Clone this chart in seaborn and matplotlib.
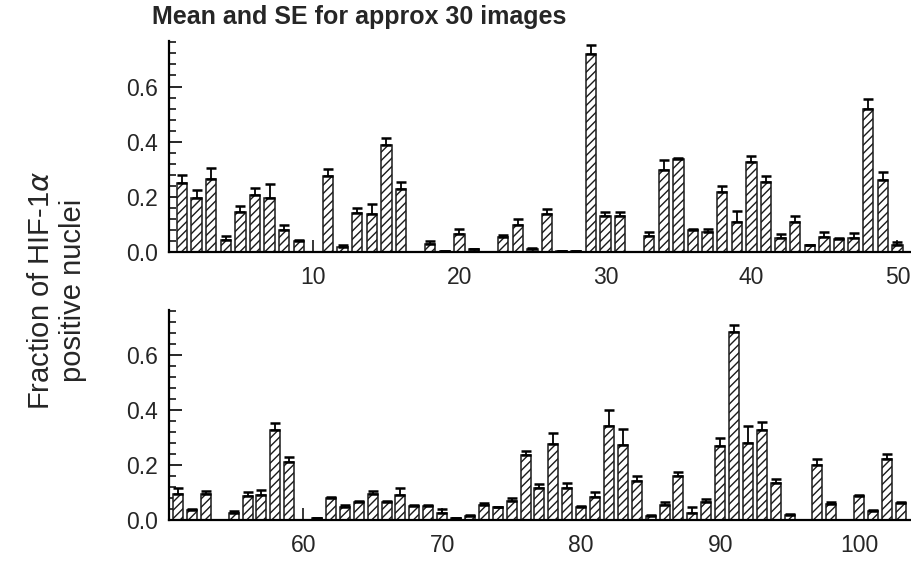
import matplotlib
matplotlib.use("Agg")
import matplotlib.pyplot as plt
import seaborn as sns
import numpy as np
import pandas as pd
from matplotlib.ticker import MultipleLocator

# ---------------- data ----------------
top_ids = list(range(1, 51))
top_mean = [0.251, 0.194, 0.264, 0.042, 0.144, 0.208, 0.196, 0.079, 0.039, 0.0,
            0.276, 0.018, 0.142, 0.136, 0.388, 0.228, 0.0, 0.030, 0.005, 0.067,
            0.010, 0.0, 0.055, 0.097, 0.011, 0.136, 0.002, 0.002, 0.719, 0.132,
            0.130, 0.0, 0.058, 0.297, 0.336, 0.081, 0.072, 0.218, 0.107, 0.325,
            0.252, 0.052, 0.109, 0.024, 0.055, 0.048, 0.052, 0.519, 0.261, 0.027]
top_se = [0.028, 0.030, 0.041, 0.015, 0.023, 0.025, 0.050, 0.018, 0.006, 0.0,
          0.024, 0.006, 0.016, 0.039, 0.027, 0.024, 0.0, 0.010, 0.0, 0.015,
          0.002, 0.0, 0.006, 0.023, 0.002, 0.019, 0.0, 0.0, 0.033, 0.013,
          0.015, 0.0, 0.014, 0.036, 0.003, 0.004, 0.010, 0.022, 0.041, 0.023,
          0.024, 0.012, 0.021, 0.002, 0.017, 0.004, 0.018, 0.035, 0.030, 0.010]

bottom_ids = list(range(51, 104))
bottom_mean = [0.095, 0.036, 0.095, 0.0, 0.027, 0.086, 0.092, 0.328, 0.210, 0.0,
               0.006, 0.079, 0.049, 0.066, 0.094, 0.064, 0.092, 0.051, 0.051, 0.027,
               0.006, 0.015, 0.055, 0.046, 0.069, 0.235, 0.116, 0.276, 0.118, 0.049,
               0.085, 0.341, 0.274, 0.142, 0.016, 0.055, 0.161, 0.024, 0.064, 0.270,
               0.685, 0.282, 0.328, 0.134, 0.018, 0.0, 0.201, 0.057, 0.0, 0.089,
               0.033, 0.223, 0.061]
bottom_se = [0.021, 0.004, 0.010, 0.0, 0.004, 0.016, 0.018, 0.024, 0.019, 0.0,
             0.0, 0.006, 0.004, 0.003, 0.011, 0.006, 0.024, 0.004, 0.004, 0.012,
             0.0, 0.003, 0.006, 0.003, 0.011, 0.018, 0.015, 0.040, 0.018, 0.003,
             0.018, 0.058, 0.057, 0.020, 0.003, 0.012, 0.013, 0.025, 0.013, 0.030,
             0.027, 0.062, 0.028, 0.016, 0.003, 0.0, 0.020, 0.010, 0.0, 0.003,
             0.003, 0.017, 0.004]

top_ticks = [10, 20, 30, 40, 50]
bottom_ticks = [60, 70, 80, 90, 100]
y_ticks = [0.0, 0.2, 0.4, 0.6]
y_ticklabels = ["0.0", "0.2", "0.4", "0.6"]

title = "Mean and SE for approx 30 images"
ylabel = "Fraction of HIF-1$\\alpha$\npositive nuclei"

# ---------------- style ----------------
sns.set_style("white")
plt.rcParams["font.family"] = ["Liberation Sans", "DejaVu Sans"]
plt.rcParams["hatch.linewidth"] = 1.0
plt.rcParams["mathtext.fontset"] = "dejavusans"

W, H = 912, 562
fig = plt.figure(figsize=(W / 100, H / 100), dpi=100)

def axes_px(left, top, right, bottom):
    return fig.add_axes([left / W, 1 - bottom / H, (right - left) / W, (bottom - top) / H])

ax_top = axes_px(169, 41, 912, 252)
ax_bot = axes_px(169, 310, 912, 520)

panels = [
    (ax_top, top_ids, top_mean, top_se, top_ticks, (0.11, 51.0)),
    (ax_bot, bottom_ids, bottom_mean, bottom_se, bottom_ticks, (50.35, 103.8)),
]

for ax, ids, mean, se, xticks, xlim in panels:
    df = pd.DataFrame({"id": ids, "mean": mean})
    sns.barplot(data=df, x="id", y="mean", native_scale=True, ax=ax,
                color="white", saturation=1, edgecolor="black", linewidth=1.1,
                hatch="////", width=0.72, errorbar=None)
    for p in ax.patches:
        p.set_edgecolor("#1a1a1a")
    ax.errorbar(ids, mean, yerr=[np.zeros(len(se)), se], fmt="none",
                ecolor="black", elinewidth=1.3, capsize=3.6, capthick=1.8, zorder=3)
    ax.set_xlim(*xlim)
    ax.set_ylim(0, 0.765)
    ax.set_xticks(xticks)
    ax.set_xticklabels([str(t) for t in xticks])
    ax.set_yticks(y_ticks)
    ax.set_yticklabels(y_ticklabels)
    ax.yaxis.set_minor_locator(MultipleLocator(0.04))
    ax.tick_params(axis="x", which="major", direction="in", length=8.6, width=1.3,
                   pad=10, labelsize=16.5, bottom=True)
    ax.tick_params(axis="y", which="major", direction="in", length=9.4, width=1.4,
                   pad=8, labelsize=16.5, left=True)
    ax.tick_params(axis="y", which="minor", direction="in", length=5, width=1.3, left=True)
    ax.set_axisbelow(True)
    ax.set_xlabel("")
    ax.set_ylabel("")
    for s in ["top", "right"]:
        ax.spines[s].set_visible(False)
    for s in ["left", "bottom"]:
        ax.spines[s].set_color("black")
        ax.spines[s].set_linewidth(1.6)

fig.text(152 / W, 1 - 17 / H, title, ha="left", va="center",
         fontsize=18, fontweight="bold")
fig.text(57 / W, 1 - 290 / H, ylabel, ha="center", va="center", rotation=90,
         fontsize=21, multialignment="center", linespacing=1.15)

fig.savefig("out.png", dpi=100)
